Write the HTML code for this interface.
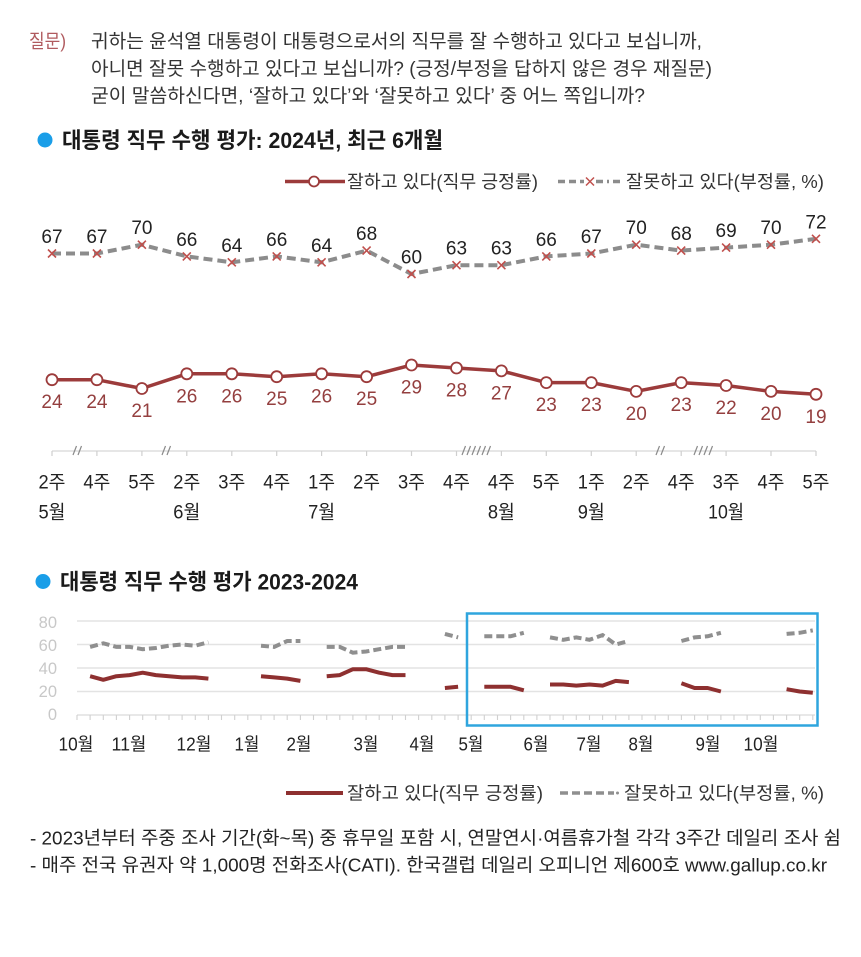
<!DOCTYPE html>
<html lang="ko">
<head>
<meta charset="utf-8">
<style>
html,body{margin:0;padding:0;background:#fff;}
svg{display:block;}
.k{font-family:"Liberation Sans","Noto Sans CJK KR",sans-serif;}
.n{font-family:"Liberation Sans","Noto Sans CJK KR",sans-serif;}
</style>
</head>
<body>
<svg width="861" height="957" viewBox="0 0 861 957" xmlns="http://www.w3.org/2000/svg">
<rect width="861" height="957" fill="#fff"/>

<!-- Question -->
<text class="k" x="29" y="47.5" font-size="19" fill="#b05a5e" textLength="37" lengthAdjust="spacingAndGlyphs">질문)</text>
<text class="k" x="91" y="47.5" font-size="19" fill="#333" textLength="611" lengthAdjust="spacingAndGlyphs">귀하는 윤석열 대통령이 대통령으로서의 직무를 잘 수행하고 있다고 보십니까,</text>
<text class="k" x="91" y="75" font-size="19" fill="#333" textLength="621" lengthAdjust="spacingAndGlyphs">아니면 잘못 수행하고 있다고 보십니까? (긍정/부정을 답하지 않은 경우 재질문)</text>
<text class="k" x="91" y="102" font-size="19" fill="#333" textLength="554" lengthAdjust="spacingAndGlyphs">굳이 말씀하신다면, ‘잘하고 있다’와 ‘잘못하고 있다’ 중 어느 쪽입니까?</text>

<!-- Title 1 -->
<circle cx="45" cy="140" r="7.5" fill="#1a9ee8"/>
<text class="k" x="62" y="148" font-size="22" font-weight="bold" fill="#1a1a1a" textLength="381" lengthAdjust="spacingAndGlyphs">대통령 직무 수행 평가: 2024년, 최근 6개월</text>

<!-- Legend top -->
<line x1="285" y1="181.5" x2="345" y2="181.5" stroke="#9c3b3b" stroke-width="3.5"/>
<circle cx="314" cy="181.5" r="5" fill="#fff" stroke="#9c3b3b" stroke-width="1.8"/>
<text class="k" x="347" y="188" font-size="18" fill="#333" textLength="191" lengthAdjust="spacingAndGlyphs">잘하고 있다(직무 긍정률)</text>
<line x1="558" y1="181.5" x2="584" y2="181.5" stroke="#8c8c8c" stroke-width="3.5" stroke-dasharray="7 4"/>
<line x1="596" y1="181.5" x2="622" y2="181.5" stroke="#8c8c8c" stroke-width="3.5" stroke-dasharray="7 4 2 4"/>
<g stroke="#c0504d" stroke-width="1.5"><line x1="586" y1="177.5" x2="594" y2="185.5"/><line x1="586" y1="185.5" x2="594" y2="177.5"/></g>
<text class="k" x="626" y="188" font-size="18" fill="#333" textLength="198" lengthAdjust="spacingAndGlyphs">잘못하고 있다(부정률, %)</text>

<!-- Upper chart: negative dashed line -->
<polyline fill="none" stroke="#8c8c8c" stroke-width="4" stroke-dasharray="9 5" points="52.0,253.5 96.9,253.5 141.9,244.7 186.8,256.4 231.8,262.3 276.7,256.4 321.6,262.3 366.6,250.6 411.5,274.0 456.5,265.2 501.4,265.2 546.3,256.4 591.3,253.5 636.2,244.7 681.2,250.6 726.1,247.6 771.0,244.7 816.0,238.8"/>
<g stroke="#c0504d" stroke-width="1.6">
<path d="M48,249.5l8,8M48,257.5l8,-8"/>
<path d="M92.9,249.5l8,8M92.9,257.5l8,-8"/>
<path d="M137.9,240.7l8,8M137.9,248.7l8,-8"/>
<path d="M182.8,252.4l8,8M182.8,260.4l8,-8"/>
<path d="M227.8,258.3l8,8M227.8,266.3l8,-8"/>
<path d="M272.7,252.4l8,8M272.7,260.4l8,-8"/>
<path d="M317.6,258.3l8,8M317.6,266.3l8,-8"/>
<path d="M362.6,246.6l8,8M362.6,254.6l8,-8"/>
<path d="M407.5,270.0l8,8M407.5,278.0l8,-8"/>
<path d="M452.5,261.2l8,8M452.5,269.2l8,-8"/>
<path d="M497.4,261.2l8,8M497.4,269.2l8,-8"/>
<path d="M542.3,252.4l8,8M542.3,260.4l8,-8"/>
<path d="M587.3,249.5l8,8M587.3,257.5l8,-8"/>
<path d="M632.2,240.7l8,8M632.2,248.7l8,-8"/>
<path d="M677.2,246.6l8,8M677.2,254.6l8,-8"/>
<path d="M722.1,243.6l8,8M722.1,251.6l8,-8"/>
<path d="M767.0,240.7l8,8M767.0,248.7l8,-8"/>
<path d="M812.0,234.8l8,8M812.0,242.8l8,-8"/>
</g>
<g class="n" font-size="19" fill="#222" text-anchor="middle">
<text x="52.0" y="243.0">67</text>
<text x="96.9" y="243.0">67</text>
<text x="141.9" y="234.2">70</text>
<text x="186.8" y="245.9">66</text>
<text x="231.8" y="251.8">64</text>
<text x="276.7" y="245.9">66</text>
<text x="321.6" y="251.8">64</text>
<text x="366.6" y="240.1">68</text>
<text x="411.5" y="263.5">60</text>
<text x="456.5" y="254.7">63</text>
<text x="501.4" y="254.7">63</text>
<text x="546.3" y="245.9">66</text>
<text x="591.3" y="243.0">67</text>
<text x="636.2" y="234.2">70</text>
<text x="681.2" y="240.1">68</text>
<text x="726.1" y="237.1">69</text>
<text x="771.0" y="234.2">70</text>
<text x="816.0" y="228.3">72</text>
</g>

<!-- Upper chart: positive line -->
<polyline fill="none" stroke="#9c3b3b" stroke-width="3.5" points="52.0,379.7 96.9,379.7 141.9,388.5 186.8,373.8 231.8,373.8 276.7,376.7 321.6,373.8 366.6,376.7 411.5,365.0 456.5,368.0 501.4,370.9 546.3,382.6 591.3,382.6 636.2,391.4 681.2,382.6 726.1,385.5 771.0,391.4 816.0,394.3"/>
<g fill="#fff" stroke="#9c3b3b" stroke-width="1.8">
<circle cx="52.0" cy="379.7" r="5.5"/>
<circle cx="96.9" cy="379.7" r="5.5"/>
<circle cx="141.9" cy="388.5" r="5.5"/>
<circle cx="186.8" cy="373.8" r="5.5"/>
<circle cx="231.8" cy="373.8" r="5.5"/>
<circle cx="276.7" cy="376.7" r="5.5"/>
<circle cx="321.6" cy="373.8" r="5.5"/>
<circle cx="366.6" cy="376.7" r="5.5"/>
<circle cx="411.5" cy="365.0" r="5.5"/>
<circle cx="456.5" cy="368.0" r="5.5"/>
<circle cx="501.4" cy="370.9" r="5.5"/>
<circle cx="546.3" cy="382.6" r="5.5"/>
<circle cx="591.3" cy="382.6" r="5.5"/>
<circle cx="636.2" cy="391.4" r="5.5"/>
<circle cx="681.2" cy="382.6" r="5.5"/>
<circle cx="726.1" cy="385.5" r="5.5"/>
<circle cx="771.0" cy="391.4" r="5.5"/>
<circle cx="816.0" cy="394.3" r="5.5"/>
</g>
<g class="n" font-size="19" fill="#943f3f" text-anchor="middle">
<text x="52.0" y="408.2">24</text>
<text x="96.9" y="408.2">24</text>
<text x="141.9" y="417.0">21</text>
<text x="186.8" y="402.3">26</text>
<text x="231.8" y="402.3">26</text>
<text x="276.7" y="405.2">25</text>
<text x="321.6" y="402.3">26</text>
<text x="366.6" y="405.2">25</text>
<text x="411.5" y="393.5">29</text>
<text x="456.5" y="396.5">28</text>
<text x="501.4" y="399.4">27</text>
<text x="546.3" y="411.1">23</text>
<text x="591.3" y="411.1">23</text>
<text x="636.2" y="419.9">20</text>
<text x="681.2" y="411.1">23</text>
<text x="726.1" y="414.0">22</text>
<text x="771.0" y="419.9">20</text>
<text x="816.0" y="422.8">19</text>
</g>

<!-- Upper axis -->
<line x1="52" y1="451" x2="816" y2="451" stroke="#d6d6d6" stroke-width="1.2"/>
<g stroke="#cfcfcf" stroke-width="1.2">
<path d="M52,451v5M96.9,451v5M141.9,451v5M186.8,451v5M231.8,451v5M276.7,451v5M321.6,451v5M366.6,451v5M411.5,451v5M456.5,451v5M501.4,451v5M546.3,451v5M591.3,451v5M636.2,451v5M681.2,451v5M726.1,451v5M771,451v5M816,451v5"/>
</g>
<g stroke="#8a8a8a" stroke-width="1.2">
<path d="M73,455l3.5,-9M78,455l3.5,-9"/>
<path d="M162,455l3.5,-9M167,455l3.5,-9"/>
<path d="M462,455l3.5,-9M467,455l3.5,-9M472,455l3.5,-9M477,455l3.5,-9M482,455l3.5,-9M487,455l3.5,-9"/>
<path d="M656,455l3.5,-9M661,455l3.5,-9"/>
<path d="M694,455l3.5,-9M699,455l3.5,-9M704,455l3.5,-9M709,455l3.5,-9"/>
</g>
<g class="k" font-size="19" fill="#222" text-anchor="middle">
<text x="52.0" y="488.5" textLength="27" lengthAdjust="spacingAndGlyphs">2주</text>
<text x="96.9" y="488.5" textLength="27" lengthAdjust="spacingAndGlyphs">4주</text>
<text x="141.9" y="488.5" textLength="27" lengthAdjust="spacingAndGlyphs">5주</text>
<text x="186.8" y="488.5" textLength="27" lengthAdjust="spacingAndGlyphs">2주</text>
<text x="231.8" y="488.5" textLength="27" lengthAdjust="spacingAndGlyphs">3주</text>
<text x="276.7" y="488.5" textLength="27" lengthAdjust="spacingAndGlyphs">4주</text>
<text x="321.6" y="488.5" textLength="27" lengthAdjust="spacingAndGlyphs">1주</text>
<text x="366.6" y="488.5" textLength="27" lengthAdjust="spacingAndGlyphs">2주</text>
<text x="411.5" y="488.5" textLength="27" lengthAdjust="spacingAndGlyphs">3주</text>
<text x="456.5" y="488.5" textLength="27" lengthAdjust="spacingAndGlyphs">4주</text>
<text x="501.4" y="488.5" textLength="27" lengthAdjust="spacingAndGlyphs">4주</text>
<text x="546.3" y="488.5" textLength="27" lengthAdjust="spacingAndGlyphs">5주</text>
<text x="591.3" y="488.5" textLength="27" lengthAdjust="spacingAndGlyphs">1주</text>
<text x="636.2" y="488.5" textLength="27" lengthAdjust="spacingAndGlyphs">2주</text>
<text x="681.2" y="488.5" textLength="27" lengthAdjust="spacingAndGlyphs">4주</text>
<text x="726.1" y="488.5" textLength="27" lengthAdjust="spacingAndGlyphs">3주</text>
<text x="771.0" y="488.5" textLength="27" lengthAdjust="spacingAndGlyphs">4주</text>
<text x="816.0" y="488.5" textLength="27" lengthAdjust="spacingAndGlyphs">5주</text>
<text x="52.0" y="518.5" textLength="27" lengthAdjust="spacingAndGlyphs">5월</text>
<text x="186.8" y="518.5" textLength="27" lengthAdjust="spacingAndGlyphs">6월</text>
<text x="321.6" y="518.5" textLength="27" lengthAdjust="spacingAndGlyphs">7월</text>
<text x="501.4" y="518.5" textLength="27" lengthAdjust="spacingAndGlyphs">8월</text>
<text x="591.3" y="518.5" textLength="27" lengthAdjust="spacingAndGlyphs">9월</text>
<text x="726.1" y="518.5" textLength="36" lengthAdjust="spacingAndGlyphs">10월</text>
</g>

<!-- Title 2 -->
<circle cx="43" cy="581.5" r="7.5" fill="#1a9ee8"/>
<text class="k" x="60" y="589.5" font-size="22" font-weight="bold" fill="#1a1a1a" textLength="298" lengthAdjust="spacingAndGlyphs">대통령 직무 수행 평가 2023-2024</text>

<!-- Lower chart grid -->
<g stroke="#e3e3e3" stroke-width="1.5">
<line x1="77" y1="621" x2="815" y2="621"/>
<line x1="77" y1="644.5" x2="815" y2="644.5"/>
<line x1="77" y1="668" x2="815" y2="668"/>
<line x1="77" y1="691.5" x2="815" y2="691.5"/>
</g>
<line x1="77" y1="715" x2="815" y2="715" stroke="#d9d9d9" stroke-width="1.2"/>
<g stroke="#d0d0d0" stroke-width="1.1">
<path d="M77,715v5M90.1,715v5M103.3,715v5M116.4,715v5M129.6,715v5M142.7,715v5M155.8,715v5M169,715v5M182.1,715v5M195.3,715v5M208.4,715v5M221.5,715v5M234.7,715v5M247.8,715v5M261,715v5M274.1,715v5M287.2,715v5M300.4,715v5M313.5,715v5M326.7,715v5M339.8,715v5M352.9,715v5M366.1,715v5M379.2,715v5M392.4,715v5M405.5,715v5M418.6,715v5M431.8,715v5M444.9,715v5M458.1,715v5M471.2,715v5M484.3,715v5M497.5,715v5M510.6,715v5M523.8,715v5M536.9,715v5M550,715v5M563.2,715v5M576.3,715v5M589.5,715v5M602.6,715v5M615.7,715v5M628.9,715v5M642,715v5M655.2,715v5M668.3,715v5M681.4,715v5M694.6,715v5M707.7,715v5M720.9,715v5M734,715v5M747.1,715v5M760.3,715v5M773.4,715v5M786.6,715v5M799.7,715v5M812.8,715v5"/>
</g>
<g class="n" font-size="16.5" fill="#c8c8c8" text-anchor="end">
<text x="57" y="628">80</text>
<text x="57" y="651">60</text>
<text x="57" y="674">40</text>
<text x="57" y="697">20</text>
<text x="57" y="720">0</text>
</g>

<!-- Lower gray dashed -->
<g fill="none" stroke="#8f8f8f" stroke-width="4" stroke-dasharray="8 4">
<polyline points="90.1,646.9 103.3,643.3 116.4,646.9 129.6,646.9 142.7,649.2 155.8,648.0 169.0,645.7 182.1,644.5 195.3,645.7 208.4,642.2"/>
<polyline points="261.0,645.7 274.1,646.9 287.2,641.0 300.4,641.0"/>
<polyline points="326.7,646.9 339.8,646.9 352.9,652.7 366.1,651.5 379.2,649.2 392.4,646.9 405.5,646.9"/>
<polyline points="444.9,633.9 458.1,637.4"/>
<polyline points="484.3,636.3 497.5,636.3 510.6,636.3 523.8,632.8"/>
<polyline points="550.0,637.4 563.2,639.8 576.3,637.4 589.5,639.8 602.6,635.1 615.7,644.5 628.9,641.0"/>
<polyline points="681.4,641.0 694.6,637.4 707.7,636.3 720.9,632.8"/>
<polyline points="786.6,633.9 799.7,632.8 812.8,630.4"/>
</g>
<!-- Lower red -->
<g fill="none" stroke="#8e3030" stroke-width="4" stroke-linejoin="round">
<polyline points="90.1,676.2 103.3,679.8 116.4,676.2 129.6,675.1 142.7,672.7 155.8,675.1 169.0,676.2 182.1,677.4 195.3,677.4 208.4,678.6"/>
<polyline points="261.0,676.2 274.1,677.4 287.2,678.6 300.4,680.9"/>
<polyline points="326.7,676.2 339.8,675.1 352.9,669.2 366.1,669.2 379.2,672.7 392.4,675.1 405.5,675.1"/>
<polyline points="444.9,688.0 458.1,686.8"/>
<polyline points="484.3,686.8 497.5,686.8 510.6,686.8 523.8,690.3"/>
<polyline points="550.0,684.5 563.2,684.5 576.3,685.6 589.5,684.5 602.6,685.6 615.7,680.9 628.9,682.1"/>
<polyline points="681.4,683.3 694.6,688.0 707.7,688.0 720.9,691.5"/>
<polyline points="786.6,689.2 799.7,691.5 812.8,692.7"/>
</g>

<!-- Blue highlight box -->
<rect x="467" y="613.5" width="350.5" height="112" fill="none" stroke="#2fa5de" stroke-width="2.5"/>

<!-- Lower month labels -->
<g class="k" font-size="18" fill="#222" text-anchor="middle">
<text x="76" y="750.5" textLength="35" lengthAdjust="spacingAndGlyphs">10월</text>
<text x="129" y="750.5" textLength="35" lengthAdjust="spacingAndGlyphs">11월</text>
<text x="194" y="750.5" textLength="35" lengthAdjust="spacingAndGlyphs">12월</text>
<text x="247" y="750.5" textLength="25" lengthAdjust="spacingAndGlyphs">1월</text>
<text x="299" y="750.5" textLength="25" lengthAdjust="spacingAndGlyphs">2월</text>
<text x="366" y="750.5" textLength="25" lengthAdjust="spacingAndGlyphs">3월</text>
<text x="422" y="750.5" textLength="25" lengthAdjust="spacingAndGlyphs">4월</text>
<text x="471" y="750.5" textLength="25" lengthAdjust="spacingAndGlyphs">5월</text>
<text x="536" y="750.5" textLength="25" lengthAdjust="spacingAndGlyphs">6월</text>
<text x="589" y="750.5" textLength="25" lengthAdjust="spacingAndGlyphs">7월</text>
<text x="641" y="750.5" textLength="25" lengthAdjust="spacingAndGlyphs">8월</text>
<text x="708" y="750.5" textLength="25" lengthAdjust="spacingAndGlyphs">9월</text>
<text x="761" y="750.5" textLength="35" lengthAdjust="spacingAndGlyphs">10월</text>
</g>

<!-- Lower legend -->
<line x1="286" y1="793" x2="343" y2="793" stroke="#8e3030" stroke-width="4"/>
<text class="k" x="347" y="799.5" font-size="18" fill="#333" textLength="196" lengthAdjust="spacingAndGlyphs">잘하고 있다(직무 긍정률)</text>
<line x1="560" y1="793" x2="614" y2="793" stroke="#8f8f8f" stroke-width="3.5" stroke-dasharray="8 4"/>
<circle cx="617.5" cy="793" r="1.5" fill="#8f8f8f"/>
<text class="k" x="624" y="799.5" font-size="18" fill="#333" textLength="200" lengthAdjust="spacingAndGlyphs">잘못하고 있다(부정률, %)</text>

<!-- Footnotes -->
<text class="k" x="30" y="844.5" font-size="18.5" fill="#222" textLength="811" lengthAdjust="spacingAndGlyphs">- 2023년부터 주중 조사 기간(화~목) 중 휴무일 포함 시, 연말연시·여름휴가철 각각 3주간 데일리 조사 쉼</text>
<text class="k" x="30" y="871.5" font-size="18.5" fill="#222" textLength="797" lengthAdjust="spacingAndGlyphs">- 매주 전국 유권자 약 1,000명 전화조사(CATI). 한국갤럽 데일리 오피니언 제600호 www.gallup.co.kr</text>
</svg>
</body>
</html>
